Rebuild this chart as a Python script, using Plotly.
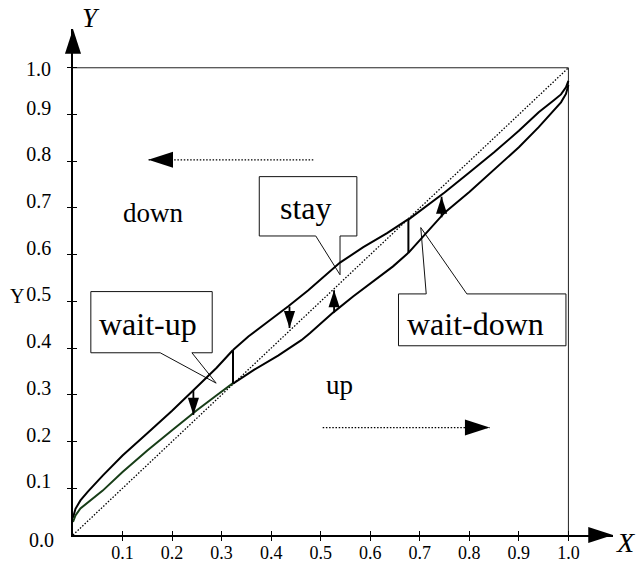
import plotly.graph_objects as go

# ---------------- data ----------------
LEFT_UPPER_X = [0.0, 0.005, 0.015, 0.03, 0.06, 0.10, 0.15, 0.20, 0.243, 0.29, 0.323]
LEFT_UPPER_Y = [0.037, 0.056, 0.074, 0.093, 0.127, 0.170, 0.218, 0.266, 0.310, 0.358, 0.396]

LEFT_LOWER_X = [0.0, 0.005, 0.015, 0.03, 0.06, 0.10, 0.15, 0.20, 0.25, 0.29, 0.323]
LEFT_LOWER_Y = [0.028, 0.042, 0.057, 0.070, 0.095, 0.135, 0.181, 0.224, 0.267, 0.299, 0.325]

MID_UPPER_X = [0.323, 0.354, 0.394, 0.434, 0.475, 0.522, 0.539, 0.586, 0.634, 0.677]
MID_UPPER_Y = [0.396, 0.425, 0.457, 0.489, 0.524, 0.568, 0.583, 0.616, 0.646, 0.676]

MID_LOWER_X = [0.323, 0.366, 0.414, 0.461, 0.478, 0.525, 0.566, 0.606, 0.646, 0.677]
MID_LOWER_Y = [0.324, 0.354, 0.384, 0.417, 0.432, 0.476, 0.511, 0.543, 0.575, 0.604]

RIGHT_UPPER_X = [0.677, 0.71, 0.75, 0.80, 0.85, 0.90, 0.94, 0.97, 0.985, 0.995, 1.0]
RIGHT_UPPER_Y = [0.675, 0.701, 0.733, 0.776, 0.819, 0.865, 0.905, 0.930, 0.943, 0.958, 0.972]

RIGHT_LOWER_X = [0.677, 0.71, 0.75, 0.80, 0.85, 0.90, 0.94, 0.97, 0.985, 0.995, 1.0]
RIGHT_LOWER_Y = [0.604, 0.642, 0.690, 0.734, 0.782, 0.830, 0.873, 0.907, 0.926, 0.944, 0.963]

JUMP_X = [0.323, 0.677]
JUMP_Y0 = [0.324, 0.604]
JUMP_Y1 = [0.396, 0.676]

DIAG_X = [0.0, 1.0]
DIAG_Y = [0.0, 1.0]

# small solid arrows: x, y start, y end (tip)
SOLID_ARROW_X = [0.243, 0.437, 0.527, 0.744]
SOLID_ARROW_Y0 = [0.310, 0.489, 0.476, 0.680]
SOLID_ARROW_Y1 = [0.257, 0.443, 0.524, 0.724]

# dotted arrows: y, x start, x end (tip)
DOT_ARROW_Y = [0.803, 0.230]
DOT_ARROW_X0 = [0.485, 0.504]
DOT_ARROW_X1 = [0.152, 0.841]

X_TICKS = [0.1, 0.2, 0.3, 0.4, 0.5, 0.6, 0.7, 0.8, 0.9, 1.0]
X_TICK_TEXT = ["0.1", "0.2", "0.3", "0.4", "0.5", "0.6", "0.7", "0.8", "0.9", "1.0"]
Y_TICKS = [0.1, 0.2, 0.3, 0.4, 0.5, 0.6, 0.7, 0.8, 0.9, 1.0]
Y_TICK_TEXT = ["0.1", "0.2", "0.3", "0.4", "0.5", "0.6", "0.7", "0.8", "0.9", ""]

REGION_LABELS = ["down", "up"]
CALLOUT_LABELS = ["stay", "wait-up", "wait-down"]

# ---------------- layout constants ----------------
FONT = "Liberation Serif, Times New Roman, serif"
XMAX = 1.09
YMAX = 1.083

fig = go.Figure()


def add_line(x, y, color="black", width=2.0, dash=None):
    fig.add_trace(go.Scatter(
        x=x, y=y, mode="lines",
        line=dict(color=color, width=width, dash=dash),
        hoverinfo="skip", showlegend=False, cliponaxis=False))


def add_head(x, y, angle, size):
    fig.add_trace(go.Scatter(
        x=[x], y=[y], mode="markers",
        marker=dict(symbol="arrow", size=size, angle=angle, color="black",
                    line=dict(width=0)),
        hoverinfo="skip", showlegend=False, cliponaxis=False))


# diagonal
add_line(DIAG_X, DIAG_Y, width=1.3, dash="1.5px,1.7px")

# curves
add_line(LEFT_UPPER_X, LEFT_UPPER_Y)
add_line(LEFT_LOWER_X, LEFT_LOWER_Y, color="#173d17")
add_line(MID_UPPER_X, MID_UPPER_Y)
add_line(MID_LOWER_X, MID_LOWER_Y)
add_line(RIGHT_UPPER_X, RIGHT_UPPER_Y)
add_line(RIGHT_LOWER_X, RIGHT_LOWER_Y)
for xj, a, b in zip(JUMP_X, JUMP_Y0, JUMP_Y1):
    add_line([xj, xj], [a, b])

# solid arrows
for xa, a, b in zip(SOLID_ARROW_X, SOLID_ARROW_Y0, SOLID_ARROW_Y1):
    add_line([xa, xa], [a, b], width=1.8)
    add_head(xa, b, 0 if b > a else 180, 18)

# dotted arrows
for ya, a, b in zip(DOT_ARROW_Y, DOT_ARROW_X0, DOT_ARROW_X1):
    add_line([a, b], [ya, ya], width=1.3, dash="1.5px,1.7px")
    add_head(b, ya, 90 if b > a else 270, 26)

# axis arrow heads
add_head(XMAX, 0, 90, 26)
add_head(0, YMAX, 0, 26)

# overlay axes trace (for ticks crossing the axis)
fig.add_trace(go.Scatter(x=[], y=[], xaxis="x2", yaxis="y2",
                         showlegend=False, hoverinfo="skip"))

# frame (top and right)
shapes = [
    dict(type="line", xref="x", yref="y", x0=0, y0=1, x1=1, y1=1,
         line=dict(color="#222", width=1), layer="below"),
    dict(type="line", xref="x", yref="y", x0=1, y0=0, x1=1, y1=1,
         line=dict(color="#222", width=1), layer="below"),
]

# callouts: box (x0, x1, ybottom, ytop), tail base (xa, xb), tip, side
CALLOUTS = [
    dict(box=(0.376, 0.573, 0.640, 0.767), base=(0.490, 0.539), tip=(0.539, 0.557),
         side="bottom", text_pos=(0.470, 0.700)),
    dict(box=(0.036, 0.281, 0.390, 0.521), base=(0.176, 0.240), tip=(0.289, 0.325),
         side="bottom", text_pos=(0.152, 0.452)),
    dict(box=(0.657, 0.995, 0.405, 0.516), base=(0.713, 0.795), tip=(0.702, 0.658),
         side="top", text_pos=(0.812, 0.452)),
]

annotations = []
for c, label in zip(CALLOUTS, CALLOUT_LABELS):
    x0, x1, yb, yt = c["box"]
    xa, xb = c["base"]
    tx, ty = c["tip"]
    if c["side"] == "bottom":
        pts = [(x0, yt), (x1, yt), (x1, yb), (xb, yb), (tx, ty), (xa, yb), (x0, yb)]
    else:
        pts = [(x0, yb), (x0, yt), (xa, yt), (tx, ty), (xb, yt), (x1, yt), (x1, yb)]
    path = "M " + " L ".join(f"{px},{py}" for px, py in pts) + " Z"
    shapes.append(dict(type="path", xref="x", yref="y", path=path,
                       fillcolor="white", line=dict(color="#111", width=1),
                       layer="below"))
    annotations.append(dict(x=c["text_pos"][0], y=c["text_pos"][1], xref="x", yref="y",
                            text=label, showarrow=False,
                            xanchor="center", yanchor="middle",
                            font=dict(family=FONT, size=32, color="black")))

REGION_POS = [(0.161, 0.690), (0.538, 0.321)]
for (rx, ry), label in zip(REGION_POS, REGION_LABELS):
    annotations.append(dict(x=rx, y=ry, xref="x", yref="y", text=label,
                            showarrow=False, xanchor="center", yanchor="middle",
                            font=dict(family=FONT, size=27, color="black")))

# extra y labels 0.0 and 1.0
annotations.append(dict(x=0, y=0, xref="paper", yref="y", text="0.0", showarrow=False,
                        xanchor="right", yanchor="middle", xshift=-17, yshift=-5,
                        font=dict(family=FONT, size=20, color="black")))
annotations.append(dict(x=0, y=1.0, xref="paper", yref="y", text="1.0", showarrow=False,
                        xanchor="right", yanchor="middle", xshift=-20, yshift=-1,
                        font=dict(family=FONT, size=20, color="black")))
# axis titles
annotations.append(dict(x=-0.1037, y=0.511, xref="paper", yref="y", text="Y", showarrow=False,
                        xanchor="center", yanchor="middle",
                        font=dict(family=FONT, size=20, color="black")))
annotations.append(dict(x=0.0333, y=1.0217, xref="paper", yref="paper", text="<i>Y</i>",
                        showarrow=False, xanchor="center", yanchor="middle",
                        font=dict(family=FONT, size=27, color="black")))
annotations.append(dict(x=1.023, y=-0.0148, xref="paper", yref="paper", text="<i>X</i>",
                        showarrow=False, xanchor="center", yanchor="middle",
                        font=dict(family=FONT, size=28, color="black")))

axis_common = dict(showgrid=False, zeroline=False, ticklen=4, tickwidth=1.2,
                   tickcolor="black", automargin=False)

fig.update_layout(
    template="none",
    width=637, height=566,
    margin=dict(l=73, r=24, t=29, b=31),
    paper_bgcolor="white", plot_bgcolor="white",
    showlegend=False,
    shapes=shapes,
    annotations=annotations,
    xaxis=dict(range=[0, XMAX], showline=True, linecolor="black", linewidth=1.5,
               ticks="outside", tickvals=X_TICKS, ticktext=X_TICK_TEXT,
               tickfont=dict(family=FONT, size=18, color="black"),
               ticklabelstandoff=-3, **axis_common),
    yaxis=dict(range=[0, YMAX], showline=True, linecolor="black", linewidth=1.5,
               ticks="outside", tickvals=Y_TICKS, ticktext=Y_TICK_TEXT,
               tickfont=dict(family=FONT, size=20, color="black"),
               ticklabelstandoff=12, ticklabelshift=-7, **axis_common),
    xaxis2=dict(range=[0, XMAX], overlaying="x", side="bottom", ticks="inside",
                tickvals=X_TICKS, showticklabels=False, showline=False, **axis_common),
    yaxis2=dict(range=[0, YMAX], overlaying="y", side="left", ticks="inside",
                tickvals=Y_TICKS, showticklabels=False, showline=False, **axis_common),
)

fig.write_html("out.html")
